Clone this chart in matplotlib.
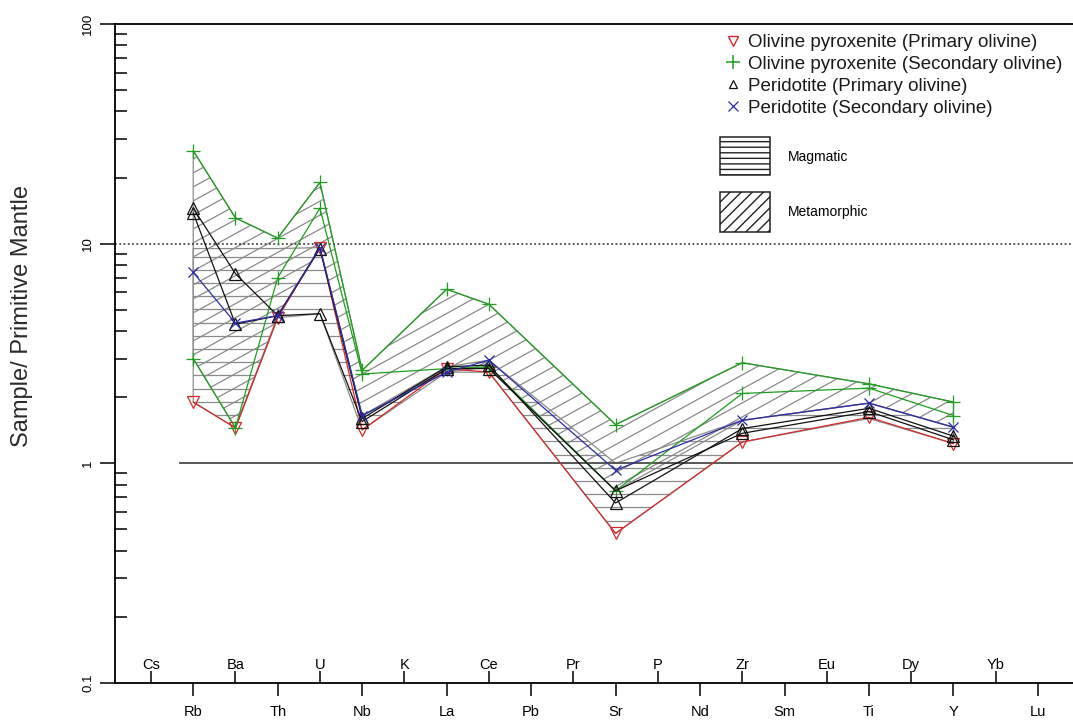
import matplotlib
matplotlib.use("Agg")
import numpy as np
import matplotlib.pyplot as plt
import matplotlib.transforms as mtransforms
from matplotlib.patches import Polygon, Rectangle
from matplotlib.collections import LineCollection
from matplotlib.lines import Line2D
from matplotlib.ticker import FixedLocator, LogLocator, NullFormatter

plt.rcParams['font.family'] = ['Liberation Sans', 'DejaVu Sans']

# Element order along the x axis
elements = ['Cs', 'Rb', 'Ba', 'Th', 'U', 'Nb', 'K', 'La', 'Ce', 'Pb', 'Pr',
            'Sr', 'P', 'Nd', 'Zr', 'Sm', 'Eu', 'Ti', 'Dy', 'Y', 'Yb', 'Lu']
# Elements with analyses
analysed = ['Rb', 'Ba', 'Th', 'U', 'Nb', 'La', 'Ce', 'Sr', 'Zr', 'Ti', 'Y']

# Primitive-mantle normalised concentrations
op_primary = [1.9, 1.45, 4.6, 9.6, 1.42, 2.7, 2.6, 0.48, 1.25, 1.62, 1.23]
op_secondary_a = [26.5, 13.1, 10.6, 19.0, 2.65, 6.2, 5.3, 1.5, 2.87, 2.3, 1.9]
op_secondary_b = [3.0, 1.45, 7.0, 14.5, 2.55, 2.7, 2.75, 0.75, 2.08, 2.2, 1.65]
per_primary_a = [14.5, 7.3, 4.7, 9.5, 1.6, 2.75, 2.8, 0.66, 1.44, 1.78, 1.33]
per_primary_b = [13.8, 4.3, 4.7, 4.8, 1.55, 2.7, 2.7, 0.75, 1.37, 1.72, 1.28]
per_secondary = [7.4, 4.35, 4.7, 9.6, 1.65, 2.6, 2.95, 0.93, 1.57, 1.88, 1.46]

# Compositional fields
magmatic_upper = [9.5, 9.5, 9.5, 9.6, 1.65, 2.75, 2.95, 1.0, 1.57, 1.88, 1.46]
magmatic_lower = [1.9, 1.45, 4.6, 4.8, 1.42, 2.6, 2.6, 0.48, 1.25, 1.6, 1.23]
metamorphic_upper = [26.5, 13.1, 10.6, 19.0, 2.65, 6.2, 5.3, 1.5, 2.87, 2.3, 1.9]
metamorphic_lower = [3.0, 1.45, 4.7, 9.6, 1.65, 2.6, 2.75, 0.75, 1.57, 1.88, 1.46]

legend_labels = ['Olivine pyroxenite (Primary olivine)',
                 'Olivine pyroxenite (Secondary olivine)',
                 'Peridotite (Primary olivine)',
                 'Peridotite (Secondary olivine)']

RED = '#d42a2a'
GREEN = '#1f9e1f'
BLACK = '#111111'
BLUE = '#2b2ba8'
HATCH = '#8a8a8a'

W_PX, H_PX = 1073, 722
fig = plt.figure(figsize=(W_PX / 100, H_PX / 100), dpi=100)
ax_rect = [115 / W_PX, (H_PX - 683) / H_PX, (W_PX - 115) / W_PX, (683 - 24) / H_PX]
ax = fig.add_axes(ax_rect)
ax_w = ax_rect[2] * W_PX
ax_h = ax_rect[3] * H_PX

ax.set_yscale('log')
ax.set_xlim(-0.852, 21.83)
ax.set_ylim(0.1, 100)

xpos = [elements.index(e) for e in analysed]


def add_field(upper, lower):
    verts = list(zip(xpos, upper)) + list(zip(xpos[::-1], lower[::-1]))
    patch = Polygon(verts, closed=True, facecolor='none', edgecolor='#8c8c8c',
                    lw=0.9, zorder=1)
    ax.add_patch(patch)
    return patch


def hatch_field(patch, slope, step_px):
    segs = []
    if slope == 0:
        for y in np.arange(4, ax_h, step_px):
            segs.append([(0, y / ax_h), (1, y / ax_h)])
    else:
        for c in np.arange(-slope * ax_w, ax_h, step_px):
            segs.append([(0, c / ax_h), (1, (slope * ax_w + c) / ax_h)])
    lc = LineCollection(segs, transform=ax.transAxes, colors=HATCH, lw=0.9, zorder=1)
    ax.add_collection(lc)
    lc.set_clip_path(patch)


mag = add_field(magmatic_upper, magmatic_lower)
hatch_field(mag, 0, 13.2)
met = add_field(metamorphic_upper, metamorphic_lower)
hatch_field(met, 0.55, 14.0)

# Reference lines at 1 and 10
ax.plot([0.69, 21.83], [1, 1], color='#4a4a4a', lw=1.3, zorder=2)
ax.axhline(10, color='#2a2a2a', lw=1.1, ls=(0, (1.2, 1.6)), zorder=2)

series = [
    (op_primary, RED, 'v', 8, 'none'),
    (op_secondary_a, GREEN, '+', 10, GREEN),
    (op_secondary_b, GREEN, '+', 10, GREEN),
    (per_primary_a, BLACK, '^', 8, 'none'),
    (per_primary_b, BLACK, '^', 8, 'none'),
    (per_secondary, BLUE, 'x', 7, BLUE),
]
for vals, col, mk, ms, fc in series:
    ax.plot(xpos, vals, color=col, lw=0.9, marker=mk, ms=ms, mfc=fc, mec=col,
            mew=0.9, zorder=3)

# Axes frame and ticks
ax.spines['right'].set_visible(False)
for s in ('left', 'top', 'bottom'):
    ax.spines[s].set_linewidth(1.3)

ax.yaxis.set_major_locator(FixedLocator([0.1, 1, 10, 100]))
ax.set_yticklabels(['0.1', '1', '10', '100'], rotation=90, va='center', fontsize=9.5)
ax.yaxis.set_minor_locator(LogLocator(base=10, subs=np.arange(2, 10)))
ax.yaxis.set_minor_formatter(NullFormatter())
ax.tick_params(axis='y', which='major', direction='out', length=11, width=1.1, pad=4)
ax.tick_params(axis='y', which='minor', direction='in', length=8.5, width=1.1)

lower_idx = list(range(1, len(elements), 2))
upper_idx = list(range(0, len(elements), 2))
ax.set_xticks(lower_idx)
ax.set_xticklabels([elements[i] for i in lower_idx])
ax.xaxis.set_minor_locator(FixedLocator(upper_idx))
ax.tick_params(axis='x', which='major', direction='out', length=9.5, width=1.1,
               pad=6, labelsize=10.5)
ax.tick_params(axis='x', which='minor', direction='in', length=8.5, width=1.1)
trans = mtransforms.blended_transform_factory(ax.transData, ax.transAxes)
for i in upper_idx:
    ax.text(i, 0.028, elements[i], transform=trans, ha='center', va='center',
            fontsize=10.5)

fig.text(22 / W_PX, 1 - 316 / H_PX, 'Sample/ Primitive Mantle', rotation=90,
         ha='center', va='center', fontsize=17, color='#2a2a2a')

# Legend
handles = [
    Line2D([], [], ls='none', marker='v', ms=7, mfc='none', mec=RED, mew=1),
    Line2D([], [], ls='none', marker='+', ms=10, mec=GREEN, mew=1.1),
    Line2D([], [], ls='none', marker='^', ms=6, mfc='none', mec=BLACK, mew=0.9),
    Line2D([], [], ls='none', marker='x', ms=7, mec=BLUE, mew=0.9),
]
ax.legend(handles, legend_labels, loc='upper left',
          bbox_to_anchor=(725 / W_PX, 1 - 34 / H_PX), bbox_transform=fig.transFigure,
          frameon=False, fontsize=13.5, handlelength=0.8, handletextpad=0.4,
          labelspacing=0.25, borderpad=0, borderaxespad=0, labelcolor='#1a1a1a')

fig.add_artist(Rectangle((720 / W_PX, 1 - 175 / H_PX), 50 / W_PX, 38 / H_PX,
                         transform=fig.transFigure, facecolor='white',
                         edgecolor='#222222', hatch='---', lw=1.1))
fig.add_artist(Rectangle((720 / W_PX, 1 - 232 / H_PX), 50 / W_PX, 40 / H_PX,
                         transform=fig.transFigure, facecolor='white',
                         edgecolor='#222222', hatch='///', lw=1.1))
fig.text(788 / W_PX, 1 - 157 / H_PX, 'Magmatic', ha='left', va='center', fontsize=10)
fig.text(788 / W_PX, 1 - 212 / H_PX, 'Metamorphic', ha='left', va='center', fontsize=10)

fig.savefig('out.png', dpi=100)
